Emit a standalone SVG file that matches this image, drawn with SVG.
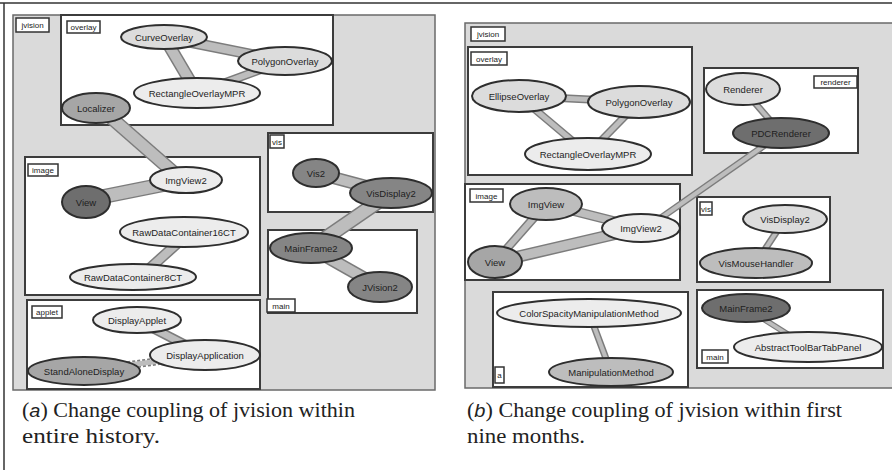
<svg xmlns="http://www.w3.org/2000/svg" width="892" height="470" viewBox="0 0 892 470">
  <style>
    .panel { fill: #dadada; stroke: #6a6a6a; stroke-width: 1.5; }
    .box { fill: #ffffff; stroke: #3c3c3c; stroke-width: 2; }
    .tag rect { fill: #ffffff; stroke: #333; stroke-width: 1.5; }
    .tag text { font-family: "Liberation Sans", Arial, sans-serif; font-size: 8px; fill: #222; text-anchor: middle; }
    .node ellipse { stroke: #2e2e2e; stroke-width: 2; }
    .node text { font-family: "Liberation Sans", Arial, sans-serif; font-size: 9.5px; fill: #1e1e1e; text-anchor: middle; dominant-baseline: central; }
    .light { fill: #ececec; }
    .pale { fill: #dcdcdc; }
    .mid { fill: #bdbdbd; }
    .gray { fill: #a6a6a6; }
    .dark { fill: #858585; }
    .darker { fill: #6e6e6e; }
    .conn .o { stroke: #7c7c7c; stroke-linecap: butt; }
    .conn .i { stroke: #bdbdbd; stroke-linecap: butt; }
    .cap { font-family: "Liberation Serif", "Times New Roman", serif; font-size: 21px; fill: #222; }
    .cap .lt { font-family: "Liberation Sans", Arial, sans-serif; font-style: italic; font-size: 19px; }
  </style>

  <rect width="892" height="470" fill="#ffffff"/>
  <!-- outer frame -->
  <line x1="0" y1="3" x2="892" y2="3" stroke="#333" stroke-width="1.5"/>
  <line x1="4" y1="3" x2="4" y2="470" stroke="#333" stroke-width="1.5"/>

  <!-- ===== panel (a) ===== -->
  <g id="a-jvision">
    <rect class="panel" x="13" y="15" width="422" height="375"/>
    <g class="tag"><rect x="16" y="18" width="33" height="14"/><text x="32.5" y="28">jvision</text></g>
  </g>
  <g id="a-overlay">
    <rect class="box" x="61" y="15" width="272" height="110"/>
    <g class="tag"><rect x="67" y="21" width="33" height="12"/><text x="83.5" y="30">overlay</text></g>
  </g>
  <g id="a-vis">
    <rect class="box" x="268" y="133" width="165" height="79"/>
    <g class="tag"><rect x="270" y="135" width="14" height="13"/><text x="277" y="144.5">vis</text></g>
  </g>
  <g id="a-main">
    <rect class="box" x="268" y="230" width="149" height="83"/>
    <g class="tag"><rect x="267" y="299" width="28" height="13"/><text x="281" y="308.5">main</text></g>
  </g>
  <g id="a-image">
    <rect class="box" x="25" y="157" width="235" height="138"/>
    <g class="tag"><rect x="28" y="164" width="30" height="12"/><text x="43" y="173">image</text></g>
  </g>
  <g id="a-applet">
    <rect class="box" x="27" y="300" width="233" height="89"/>
    <g class="tag"><rect x="32" y="306" width="30" height="12"/><text x="47" y="315">applet</text></g>
  </g>

  <!-- ===== panel (b) ===== -->
  <g id="b-jvision">
    <rect class="panel" x="465" y="23" width="440" height="365"/>
    <g class="tag"><rect x="471" y="27" width="34" height="14"/><text x="488" y="37">jvision</text></g>
  </g>
  <g id="b-overlay">
    <rect class="box" x="468" y="47" width="224" height="128"/>
    <g class="tag"><rect x="471" y="52" width="36" height="13"/><text x="489" y="61.5">overlay</text></g>
  </g>
  <g id="b-renderer">
    <rect class="box" x="704" y="68" width="154" height="85"/>
    <g class="tag"><rect x="814" y="76" width="43" height="12"/><text x="835.5" y="85">renderer</text></g>
  </g>
  <g id="b-image">
    <rect class="box" x="465" y="184" width="215" height="96"/>
    <g class="tag"><rect x="470" y="189" width="33" height="13"/><text x="486.5" y="198.5">image</text></g>
  </g>
  <g id="b-manipulation">
    <rect class="box" x="493" y="292" width="195" height="95"/>
    <g class="tag"><rect x="495" y="367" width="9" height="16"/><text x="499.5" y="378">a</text></g>
  </g>
  <g id="b-vis">
    <rect class="box" x="697" y="197" width="133" height="85"/>
    <g class="tag"><rect x="700" y="202" width="12" height="13"/><text x="706" y="211.5">vis</text></g>
  </g>
  <g id="b-main">
    <rect class="box" x="697" y="290" width="186" height="78"/>
    <g class="tag"><rect x="702" y="350" width="26" height="13"/><text x="715" y="359.5">main</text></g>
  </g>

  <!-- connectors: dark outline band with lighter core -->
  <g id="connectors" class="conn">
    <!-- (a) -->
    <line class="o" x1="164" y1="37" x2="284" y2="61" stroke-width="11"/><line class="i" x1="164" y1="37" x2="284" y2="61" stroke-width="8"/>
    <line class="o" x1="164" y1="37" x2="197" y2="93" stroke-width="13"/><line class="i" x1="164" y1="37" x2="197" y2="93" stroke-width="10"/>
    <line class="o" x1="284" y1="61" x2="197" y2="93" stroke-width="9"/><line class="i" x1="284" y1="61" x2="197" y2="93" stroke-width="6"/>
    <line class="o" x1="100" y1="108" x2="180" y2="178" stroke-width="14"/><line class="i" x1="100" y1="108" x2="180" y2="178" stroke-width="11"/>
    <line class="o" x1="86" y1="200" x2="186" y2="180" stroke-width="15"/><line class="i" x1="86" y1="200" x2="186" y2="180" stroke-width="12"/>
    <line class="o" x1="190" y1="232" x2="140" y2="277" stroke-width="11"/><line class="i" x1="190" y1="232" x2="140" y2="277" stroke-width="8"/>
    <line class="o" x1="316" y1="173" x2="391" y2="193" stroke-width="13"/><line class="i" x1="316" y1="173" x2="391" y2="193" stroke-width="10"/>
    <line class="o" x1="391" y1="193" x2="311" y2="248" stroke-width="15"/><line class="i" x1="391" y1="193" x2="311" y2="248" stroke-width="12"/>
    <line class="o" x1="311" y1="248" x2="380" y2="287" stroke-width="13"/><line class="i" x1="311" y1="248" x2="380" y2="287" stroke-width="10"/>
    <line class="o" x1="137" y1="320" x2="205" y2="355" stroke-width="10"/><line class="i" x1="137" y1="320" x2="205" y2="355" stroke-width="7"/>
    <line class="o" x1="205" y1="355" x2="84" y2="371" stroke-width="8" stroke-dasharray="3 2"/><line class="i" x1="205" y1="355" x2="84" y2="371" stroke-width="5"/>
    <!-- (b) -->
    <line class="o" x1="519" y1="96" x2="639" y2="102" stroke-width="8"/><line class="i" x1="519" y1="96" x2="639" y2="102" stroke-width="5"/>
    <line class="o" x1="519" y1="96" x2="588" y2="154" stroke-width="8"/><line class="i" x1="519" y1="96" x2="588" y2="154" stroke-width="5"/>
    <line class="o" x1="639" y1="102" x2="588" y2="154" stroke-width="8"/><line class="i" x1="639" y1="102" x2="588" y2="154" stroke-width="5"/>
    <line class="o" x1="743" y1="89" x2="781" y2="133" stroke-width="7"/><line class="i" x1="743" y1="89" x2="781" y2="133" stroke-width="4"/>
    <line class="o" x1="765" y1="145" x2="655" y2="222" stroke-width="7"/><line class="i" x1="765" y1="145" x2="655" y2="222" stroke-width="4"/>
    <line class="o" x1="546" y1="204" x2="641" y2="228" stroke-width="10"/><line class="i" x1="546" y1="204" x2="641" y2="228" stroke-width="7"/>
    <line class="o" x1="546" y1="204" x2="495" y2="262" stroke-width="9"/><line class="i" x1="546" y1="204" x2="495" y2="262" stroke-width="6"/>
    <line class="o" x1="495" y1="262" x2="641" y2="228" stroke-width="12"/><line class="i" x1="495" y1="262" x2="641" y2="228" stroke-width="9"/>
    <line class="o" x1="589" y1="313" x2="611" y2="372" stroke-width="7"/><line class="i" x1="589" y1="313" x2="611" y2="372" stroke-width="4"/>
    <line class="o" x1="785" y1="219" x2="756" y2="263" stroke-width="7"/><line class="i" x1="785" y1="219" x2="756" y2="263" stroke-width="4"/>
    <line class="o" x1="746" y1="308" x2="808" y2="347" stroke-width="6"/><line class="i" x1="746" y1="308" x2="808" y2="347" stroke-width="3.5"/>
  </g>

  <!-- nodes (a) -->
  <g id="a-CurveOverlay" class="node"><ellipse class="pale" cx="164" cy="37" rx="43" ry="12"/><text x="164" y="37">CurveOverlay</text></g>
  <g id="a-PolygonOverlay" class="node"><ellipse class="pale" cx="285" cy="61" rx="47" ry="14"/><text x="285" y="61">PolygonOverlay</text></g>
  <g id="a-RectangleOverlayMPR" class="node"><ellipse class="light" cx="197" cy="93" rx="63" ry="15"/><text x="197" y="93">RectangleOverlayMPR</text></g>
  <g id="a-Localizer" class="node"><ellipse class="gray" cx="96" cy="108" rx="34" ry="15"/><text x="96" y="108">Localizer</text></g>
  <g id="a-ImgView2" class="node"><ellipse class="light" cx="186" cy="180" rx="36" ry="13"/><text x="186" y="180">ImgView2</text></g>
  <g id="a-View" class="node"><ellipse class="darker" cx="86" cy="202" rx="24" ry="16"/><text x="86" y="202">View</text></g>
  <g id="a-RawDataContainer16CT" class="node"><ellipse class="light" cx="184" cy="232" rx="64" ry="15"/><text x="184" y="232">RawDataContainer16CT</text></g>
  <g id="a-RawDataContainer8CT" class="node"><ellipse class="light" cx="133" cy="277" rx="63" ry="13"/><text x="133" y="277">RawDataContainer8CT</text></g>
  <g id="a-Vis2" class="node"><ellipse class="dark" cx="316" cy="173" rx="23" ry="14"/><text x="316" y="173">Vis2</text></g>
  <g id="a-VisDisplay2" class="node"><ellipse class="dark" cx="391" cy="193" rx="41" ry="15"/><text x="391" y="193">VisDisplay2</text></g>
  <g id="a-MainFrame2" class="node"><ellipse class="dark" cx="311" cy="248" rx="41" ry="15"/><text x="311" y="248">MainFrame2</text></g>
  <g id="a-JVision2" class="node"><ellipse class="dark" cx="380" cy="287" rx="32" ry="15"/><text x="380" y="287">JVision2</text></g>
  <g id="a-DisplayApplet" class="node"><ellipse class="light" cx="137" cy="320" rx="44" ry="13"/><text x="137" y="320">DisplayApplet</text></g>
  <g id="a-DisplayApplication" class="node"><ellipse class="light" cx="205" cy="355" rx="55" ry="15"/><text x="205" y="355">DisplayApplication</text></g>
  <g id="a-StandAloneDisplay" class="node"><ellipse class="gray" cx="84" cy="371" rx="56" ry="14"/><text x="84" y="371">StandAloneDisplay</text></g>

  <!-- nodes (b) -->
  <g id="b-EllipseOverlay" class="node"><ellipse class="pale" cx="519" cy="96" rx="47" ry="16"/><text x="519" y="96">EllipseOverlay</text></g>
  <g id="b-PolygonOverlay" class="node"><ellipse class="pale" cx="639" cy="102" rx="51" ry="16"/><text x="639" y="102">PolygonOverlay</text></g>
  <g id="b-RectangleOverlayMPR" class="node"><ellipse class="light" cx="588" cy="154" rx="63" ry="16"/><text x="588" y="154">RectangleOverlayMPR</text></g>
  <g id="b-Renderer" class="node"><ellipse class="pale" cx="743" cy="89" rx="37" ry="16"/><text x="743" y="89">Renderer</text></g>
  <g id="b-PDCRenderer" class="node"><ellipse class="darker" cx="781" cy="133" rx="48" ry="15"/><text x="781" y="133">PDCRenderer</text></g>
  <g id="b-ImgView" class="node"><ellipse class="mid" cx="546" cy="204" rx="36" ry="16"/><text x="546" y="204">ImgView</text></g>
  <g id="b-ImgView2" class="node"><ellipse class="light" cx="641" cy="228" rx="39" ry="14"/><text x="641" y="228">ImgView2</text></g>
  <g id="b-View" class="node"><ellipse class="gray" cx="495" cy="262" rx="27" ry="16"/><text x="495" y="262">View</text></g>
  <g id="b-ColorSpacityManipulationMethod" class="node"><ellipse class="light" cx="589" cy="313" rx="92" ry="14"/><text x="589" y="313">ColorSpacityManipulationMethod</text></g>
  <g id="b-ManipulationMethod" class="node"><ellipse class="mid" cx="611" cy="372" rx="62" ry="14"/><text x="611" y="372">ManipulationMethod</text></g>
  <g id="b-VisDisplay2" class="node"><ellipse class="pale" cx="785" cy="219" rx="42" ry="14"/><text x="785" y="219">VisDisplay2</text></g>
  <g id="b-VisMouseHandler" class="node"><ellipse class="mid" cx="756" cy="263" rx="56" ry="15"/><text x="756" y="263">VisMouseHandler</text></g>
  <g id="b-MainFrame2" class="node"><ellipse class="darker" cx="746" cy="308" rx="44" ry="14"/><text x="746" y="308">MainFrame2</text></g>
  <g id="b-AbstractToolBarTabPanel" class="node"><ellipse class="light" cx="808" cy="347" rx="74" ry="15"/><text x="808" y="347">AbstractToolBarTabPanel</text></g>

  <!-- captions -->
  <text class="cap" x="22" y="417" textLength="333" lengthAdjust="spacingAndGlyphs">(<tspan class="lt">a</tspan>) Change coupling of jvision within</text>
  <text class="cap" x="22" y="443" textLength="138" lengthAdjust="spacingAndGlyphs">entire history.</text>
  <text class="cap" x="467" y="417" textLength="375" lengthAdjust="spacingAndGlyphs">(<tspan class="lt">b</tspan>) Change coupling of jvision within first</text>
  <text class="cap" x="467" y="443" textLength="118" lengthAdjust="spacingAndGlyphs">nine months.</text>
</svg>
